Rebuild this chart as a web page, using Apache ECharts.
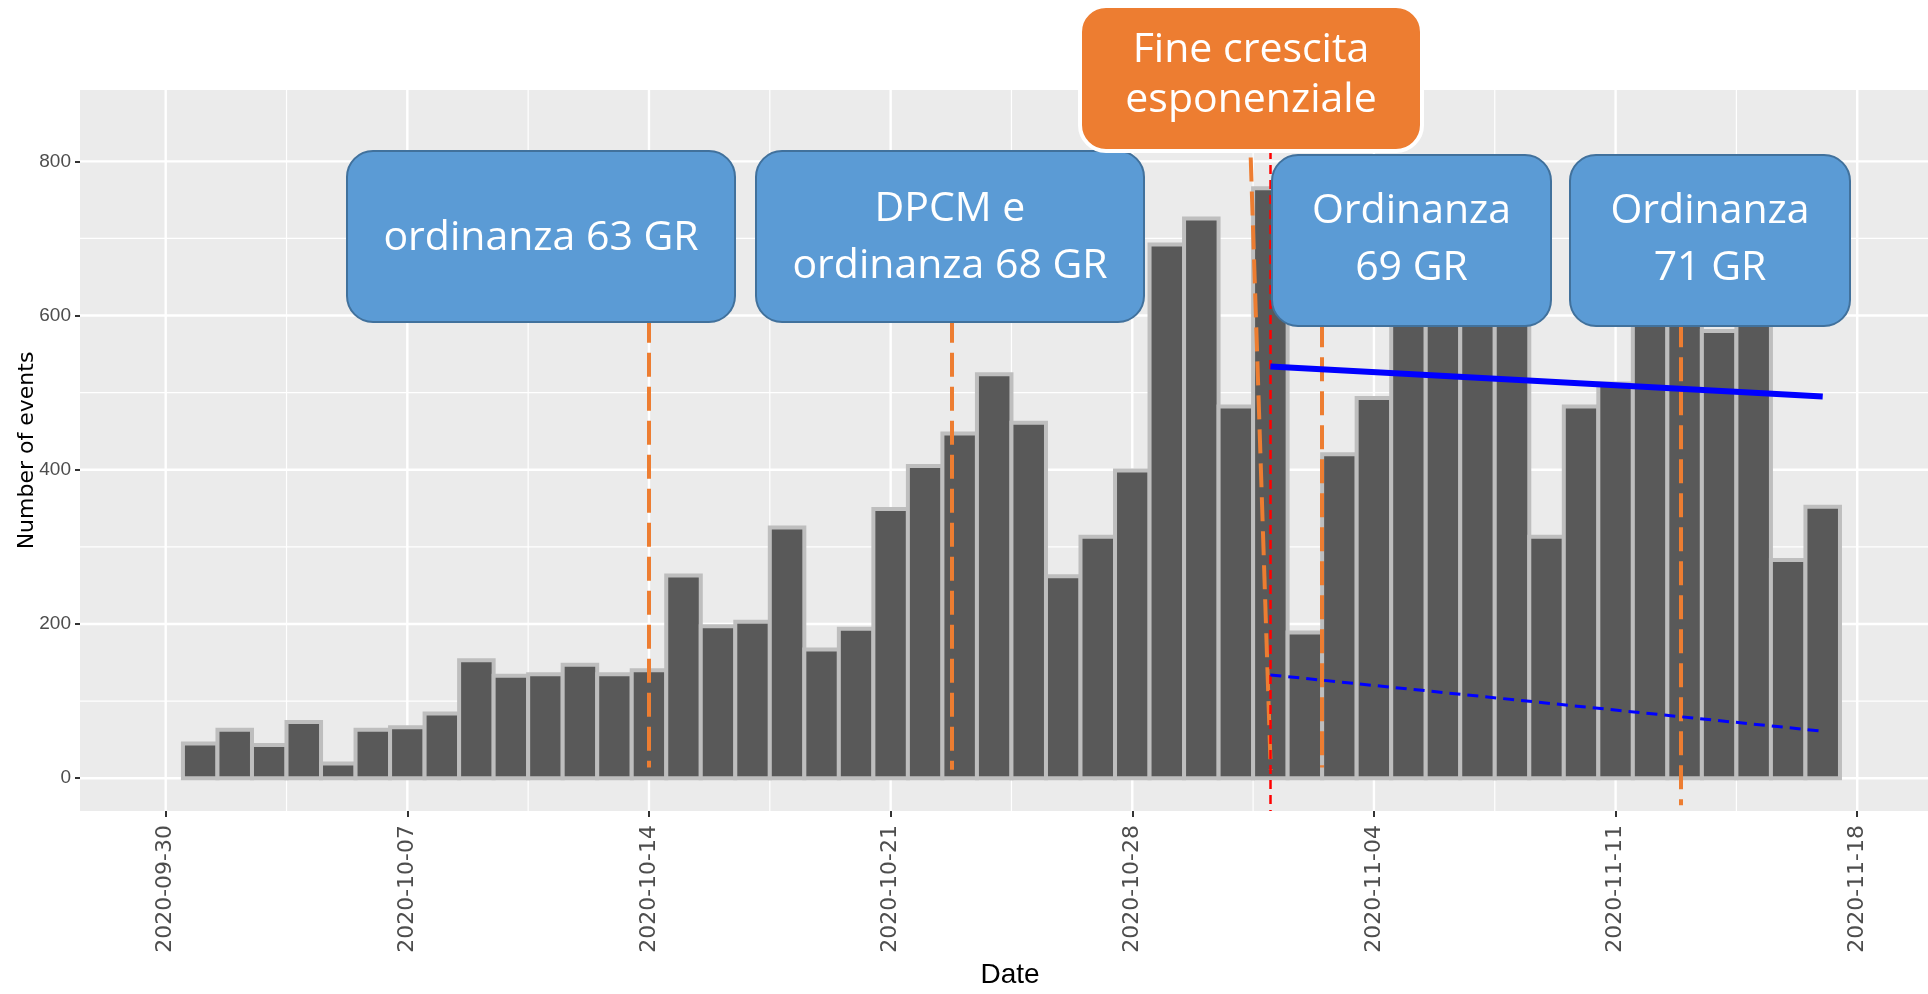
<!DOCTYPE html>
<html><head><meta charset="utf-8">
<script src="https://cdn.jsdelivr.net/npm/echarts@6/dist/echarts.min.js"></script>
<style>html,body{margin:0;padding:0;background:#fff}#c{width:1928px;height:994px}</style>
</head><body><div id="c"></div>
<script>
// ---- data ----
const baseDate = '2020-09-30';
const dates = [
 '2020-10-01','2020-10-02','2020-10-03','2020-10-04','2020-10-05','2020-10-06','2020-10-07','2020-10-08','2020-10-09','2020-10-10',
 '2020-10-11','2020-10-12','2020-10-13','2020-10-14','2020-10-15','2020-10-16','2020-10-17','2020-10-18','2020-10-19','2020-10-20',
 '2020-10-21','2020-10-22','2020-10-23','2020-10-24','2020-10-25','2020-10-26','2020-10-27','2020-10-28','2020-10-29','2020-10-30','2020-10-31',
 '2020-11-01','2020-11-02','2020-11-03','2020-11-04','2020-11-05','2020-11-06','2020-11-07','2020-11-08','2020-11-09','2020-11-10',
 '2020-11-11','2020-11-12','2020-11-13','2020-11-14','2020-11-15','2020-11-16','2020-11-17'];
const counts = [
 45,63,43,73,19,63,66,84,153,133,
 135,147,135,140,263,197,203,325,167,194,
 349,405,447,524,461,262,313,399,692,726,482,
 765,189,420,493,760,700,640,720,313,482,
 512,690,650,580,640,283,352];
const xTickLabels = ['2020-09-30','2020-10-07','2020-10-14','2020-10-21','2020-10-28','2020-11-04','2020-11-11','2020-11-18'];
const xMinorTicks = ['2020-10-03T12:00','2020-10-10T12:00','2020-10-17T12:00','2020-10-24T12:00','2020-10-31T12:00','2020-11-07T12:00','2020-11-14T12:00'];
const yTicks = [0,200,400,600,800];
const yMinorTicks = [100,300,500,700];
const trendSolid = [['2020-11-01',534],['2020-11-17',495]];
const trendDashed = [['2020-11-01',134],['2020-11-17',61]];
// event lines: [start point, end point]
const orangeEventLines = [
 [['2020-10-14',596],['2020-10-14',14]],
 [['2020-10-22T18:15',596],['2020-10-22T18:15',11]],
 [['2020-10-31T10:20',805],['2020-11-01T00:15',11]],
 [['2020-11-02T11:30',590],['2020-11-02T11:30',14]],
 [['2020-11-12T21:36',590],['2020-11-12T21:36',-35]]
];
const redEventLine = [['2020-11-01',892.5],['2020-11-01',-42.5]];
const boxTexts = [
 ['ordinanza 63 GR'],
 ['DPCM e','ordinanza 68 GR'],
 ['Fine crescita','esponenziale'],
 ['Ordinanza','69 GR'],
 ['Ordinanza','71 GR']
];

// ---- helpers ----
function dayIndex(s){
  const t = s.length > 10 ? s + ':00Z' : s + 'T00:00:00Z';
  return (Date.parse(t) - Date.parse(baseDate + 'T00:00:00Z')) / 86400000;
}
const barData = dates.map((d,i)=>[dayIndex(d), counts[i]]);
const xTickVals = xTickLabels.map(dayIndex);

const chart = echarts.init(document.getElementById('c'), null, {renderer:'canvas'});

function vGrid(width){
  return function(params, api){
    const cs = params.coordSys;
    const x = api.coord([api.value(0), 0])[0];
    return {type:'line', shape:{x1:x, y1:cs.y, x2:x, y2:cs.y+cs.height},
      style:{stroke:'#FFFFFF', lineWidth:width}, silent:true};
  };
}
function hGrid(width){
  return function(params, api){
    const cs = params.coordSys;
    const y = api.coord([0, api.value(1)])[1];
    return {type:'line', shape:{x1:cs.x, y1:y, x2:cs.x+cs.width, y2:y},
      style:{stroke:'#FFFFFF', lineWidth:width}, silent:true};
  };
}

const boxGeom = [
 {x:347, y:151, w:388, h:171, ty:[238], fill:'#5B9BD5', stroke:'#41719C', lw:2},
 {x:756, y:151, w:388, h:171, ty:[209,266], fill:'#5B9BD5', stroke:'#41719C', lw:2},
 {x:1080, y:6, w:342, h:145, ty:[50,100], fill:'#ED7D31', stroke:'#FFFFFF', lw:4},
 {x:1272, y:155, w:279, h:171, ty:[211,268], fill:'#5B9BD5', stroke:'#41719C', lw:2},
 {x:1570, y:155, w:280, h:171, ty:[211,268], fill:'#5B9BD5', stroke:'#41719C', lw:2}
];
const graphics = [];
boxGeom.forEach((b,i)=>{
  graphics.push({type:'rect', z:100, shape:{x:b.x, y:b.y, width:b.w, height:b.h, r:26},
    style:{fill:b.fill, stroke:b.stroke, lineWidth:b.lw}});
  boxTexts[i].forEach((t,j)=>{
    graphics.push({type:'text', z:101, x:b.x+b.w/2, y:b.ty[j],
      style:{text:t, fill:'#FFFFFF', font:'41px "Open Sans"', align:'center', verticalAlign:'middle'}});
  });
});

const markSeg = (seg)=>[{coord:[dayIndex(seg[0][0]), seg[0][1]]},{coord:[dayIndex(seg[1][0]), seg[1][1]]}];

const option = {
  animation:false,
  backgroundColor:'#FFFFFF',
  grid:{left:80, top:90, right:0, bottom:174, show:true, backgroundColor:'#EBEBEB', borderWidth:0},
  xAxis:{type:'value', min:-2.482, max:51.05, position:'bottom',
    splitLine:{show:false},
    axisLine:{show:false, onZero:false},
    axisTick:{show:true, length:6, lineStyle:{color:'#333333', width:2}, customValues:xTickVals},
    axisLabel:{show:true, rotate:90, margin:14, color:'#4D4D4D', fontSize:22, fontFamily:'"DejaVu Sans"',
      customValues:xTickVals,
      formatter:function(v){ const i = xTickVals.findIndex(t=>Math.abs(t-v)<1e-6); return i>=0 ? xTickLabels[i] : ''; }},
    name:'Date', nameLocation:'middle', nameGap:150, nameMoveOverlap:false,
    nameTextStyle:{color:'#000000', fontSize:28, fontFamily:'"Liberation Sans Narrow", "Liberation Sans"', padding:[0,0,0,12]}
  },
  yAxis:{type:'value', min:-42.5, max:892.5, position:'left',
    splitLine:{show:false},
    axisLine:{show:false, onZero:false},
    axisTick:{show:true, length:5, lineStyle:{color:'#333333', width:2}, customValues:yTicks},
    axisLabel:{show:true, margin:9, color:'#4D4D4D', fontSize:19, fontFamily:'"Liberation Sans Narrow", "Liberation Sans"', customValues:yTicks},
    name:'Number of events', nameLocation:'middle', nameGap:42, nameMoveOverlap:false,
    nameTextStyle:{color:'#000000', fontSize:22, fontFamily:'"DejaVu Sans"'}
  },
  graphic:graphics,
  series:[
    {type:'custom', z:1, silent:true, renderItem:vGrid(1.2), data:xMinorTicks.map(d=>[dayIndex(d),0])},
    {type:'custom', z:1, silent:true, renderItem:hGrid(1.2), data:yMinorTicks.map(v=>[0,v])},
    {type:'custom', z:1, silent:true, renderItem:vGrid(2.4), data:xTickVals.map(v=>[v,0])},
    {type:'custom', z:1, silent:true, renderItem:hGrid(2.4), data:yTicks.map(v=>[0,v])},
    {type:'custom', z:2, name:'events', data:barData,
      renderItem:function(params, api){
        const x = api.value(0), v = api.value(1);
        const p0 = api.coord([x-0.5, v]);
        const p1 = api.coord([x+0.5, 0]);
        return {type:'rect', shape:{x:p0[0], y:p0[1], width:p1[0]-p0[0], height:p1[1]-p0[1]},
          style:{fill:'#595959', stroke:'#BEBEBE', lineWidth:4}};
      }},
    {type:'line', z:5, symbol:'none', silent:true, data:trendSolid.map(p=>[dayIndex(p[0]),p[1]]),
      lineStyle:{color:'#0000FF', width:6}},
    {type:'line', z:5, symbol:'none', silent:true, data:trendDashed.map(p=>[dayIndex(p[0]),p[1]]),
      lineStyle:{color:'#0000FF', width:3, type:[11,7]}},
    {type:'line', z:6, data:[], silent:true,
      markLine:{silent:true, symbol:['none','none'], label:{show:false}, animation:false,
        lineStyle:{color:'#ED7D31', width:4, type:[24,10]},
        data:orangeEventLines.map(markSeg)}},
    {type:'line', z:7, data:[], silent:true,
      markLine:{silent:true, symbol:['none','none'], label:{show:false}, animation:false,
        lineStyle:{color:'#FF0000', width:2.5, type:[9,6]},
        data:[markSeg(redEventLine)]}}
  ]
};
chart.setOption(option);
</script>
</body></html>
